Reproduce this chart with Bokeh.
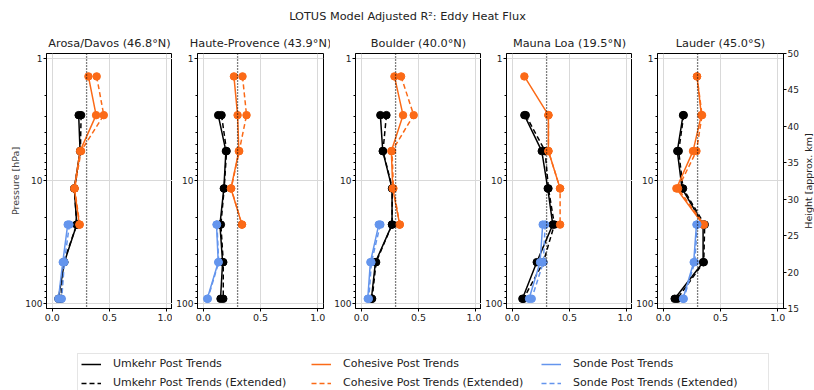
import math
from bokeh.plotting import figure
from bokeh.models import (Range1d, FixedTicker, LinearAxis, Span, Legend, LegendItem,
                          NumeralTickFormatter, BasicTickFormatter, LinearScale)
from bokeh.layouts import column, row
from bokeh.embed import file_html
from bokeh.resources import INLINE

NaN = float("nan")

suptitle = "LOTUS Model Adjusted R²: Eddy Heat Flux"
stations = ["Arosa/Davos (46.8°N)", "Haute-Provence (43.9°N)", "Boulder (40.0°N)",
            "Mauna Loa (19.5°N)", "Lauder (45.0°S)"]
left_label = "Pressure [hPa]"
right_label = "Height [approx. km]"

# pressure levels [hPa]
pressure = [1.4, 2.9, 5.7, 11.5, 22.7, 46.0, 91.5]
umkehr_levels = pressure[1:7]
cohesive_levels = pressure[0:5]
sonde_levels = pressure[4:7]

umkehr = [
    [0.231, 0.243, 0.193, 0.214, 0.106, 0.054],
    [0.131, 0.198, 0.180, 0.146, 0.169, 0.151],
    [0.167, 0.188, 0.269, 0.269, 0.124, 0.089],
    [0.106, 0.258, 0.310, 0.354, 0.214, 0.089],
    [0.173, 0.123, 0.164, 0.348, 0.348, 0.100],
]
umkehr_ext = [
    [0.252, 0.246, 0.193, 0.214, 0.100, 0.077],
    [0.160, 0.204, 0.183, 0.154, 0.175, 0.175],
    [0.220, 0.190, 0.272, 0.269, 0.130, 0.095],
    [0.118, 0.287, 0.316, 0.368, 0.272, 0.098],
    [0.179, 0.135, 0.173, 0.362, 0.354, 0.123],
]
cohesive = [
    [0.316, 0.383, 0.243, 0.193, 0.237],
    [0.268, 0.300, 0.311, 0.242, 0.338],
    [0.290, 0.365, 0.263, 0.275, 0.336],
    [0.106, 0.316, 0.316, 0.418, NaN],
    [0.295, 0.333, 0.260, 0.115, 0.348],
]
cohesive_ext = [
    [0.388, 0.450, 0.252, 0.196, 0.240],
    [0.343, 0.378, 0.314, 0.244, 0.338],
    [0.348, 0.458, 0.269, 0.281, 0.336],
    [NaN, 0.316, 0.316, 0.418, 0.418],
    [0.295, 0.339, 0.290, 0.129, 0.356],
]
sonde = [
    [0.135, 0.092, 0.054],
    [0.116, 0.131, 0.035],
    [0.153, 0.080, 0.057],
    [0.266, 0.243, 0.147],
    [0.290, 0.266, 0.173],
]
sonde_ext = [
    [0.150, 0.106, 0.083],
    [0.120, 0.135, 0.040],
    [0.167, 0.089, 0.066],
    [0.287, 0.272, 0.170],
    [0.298, 0.275, 0.179],
]
threshold = 0.3
height_ticks = [15, 20, 25, 30, 35, 40, 45, 50]

BLACK = "#000000"
ORANGE = "#fb6a17"
BLUE = "#6495ed"
FONT = "DejaVu Sans"
DASH = "5 3"

series = [
    ("Umkehr Post Trends", umkehr, umkehr_levels, BLACK, "solid"),
    ("Umkehr Post Trends (Extended)", umkehr_ext, umkehr_levels, BLACK, DASH),
    ("Cohesive Post Trends", cohesive, cohesive_levels, ORANGE, "solid"),
    ("Cohesive Post Trends (Extended)", cohesive_ext, cohesive_levels, ORANGE, DASH),
    ("Sonde Post Trends", sonde, sonde_levels, BLUE, "solid"),
    ("Sonde Post Trends (Extended)", sonde_ext, sonde_levels, BLUE, DASH),
]

X_LO, X_HI = -0.05, 1.05
FRAME_W, FRAME_H = 126, 255
TOP, BOTTOM = 23, 22

# title figure
tfig = figure(width=814, height=30, toolbar_location=None, output_backend="svg",
              x_axis_location=None, y_axis_location=None, min_border=0,
              min_border_top=24, outline_line_color=None)
tfig.title.text = suptitle
tfig.title.align = "center"
tfig.title.text_font = FONT
tfig.title.text_font_size = "11.3px"
tfig.title.text_font_style = "normal"
tfig.title.text_color = "#222222"
tfig.title.standoff = 4
tfig.grid.visible = False

# left/right borders per panel (frame width 126 each)
borders_left = [46, 25, 25, 25, 25]
borders_right = [0, 7, 0, 0, 0]

figs = []
for i, name in enumerate(stations):
    p = figure(frame_width=FRAME_W, frame_height=FRAME_H, y_axis_type="log",
               x_range=Range1d(X_LO, X_HI), y_range=Range1d(109.9, 0.91),
               toolbar_location=None, output_backend="svg",
               min_border_left=borders_left[i], min_border_right=borders_right[i],
               min_border_top=TOP, min_border_bottom=BOTTOM)
    p.title.text = name
    p.title.align = "center"
    p.title.text_font = FONT
    p.title.text_font_size = "11.3px"
    p.title.text_font_style = "normal"
    p.title.text_color = "#222222"
    p.title.standoff = 8
    p.outline_line_color = "black"
    p.outline_line_width = 1

    p.xaxis.ticker = FixedTicker(ticks=[0, 0.5, 1.0])
    p.xaxis.formatter = NumeralTickFormatter(format="0.0")
    p.yaxis.ticker = FixedTicker(ticks=[1, 10, 100],
                                 minor_ticks=[2, 3, 4, 5, 6, 7, 8, 9,
                                              20, 30, 40, 50, 60, 70, 80, 90])
    p.yaxis.formatter = BasicTickFormatter()
    for ax in (p.xaxis, p.yaxis):
        ax.major_label_text_font = FONT
        ax.major_label_text_color = "#222222"
        ax.major_tick_in = 0
        ax.major_tick_out = 3
        ax.minor_tick_in = 0
        ax.minor_tick_out = 2
        ax.axis_line_color = "black"
    p.xaxis.major_label_text_font_size = "9.5px"
    p.xaxis.major_label_standoff = 2
    p.yaxis.major_label_text_font_size = "9px"
    p.yaxis.major_label_standoff = 1
    p.xaxis.minor_tick_line_color = None
    p.grid.grid_line_color = "#d9d9d9"
    p.grid.grid_line_width = 1
    if i == 0:
        p.yaxis.axis_label = left_label
        p.yaxis.axis_label_text_font = FONT
        p.yaxis.axis_label_text_font_size = "9.5px"
        p.yaxis.axis_label_text_font_style = "normal"
        p.yaxis.axis_label_standoff = 1
    if i == 4:
        p.extra_y_ranges = {"h": Range1d(height_ticks[0], height_ticks[-1])}
        p.extra_y_scales = {"h": LinearScale()}
        rax = LinearAxis(y_range_name="h", ticker=FixedTicker(ticks=height_ticks))
        rax.major_label_text_font = FONT
        rax.major_label_text_font_size = "9px"
        rax.major_label_text_color = "#222222"
        rax.major_tick_in = 0
        rax.major_tick_out = 3
        rax.minor_tick_line_color = None
        rax.major_label_standoff = 1
        rax.axis_line_color = "black"
        p.add_layout(rax, "right")

    for label, data, levels, color, dash in series:
        xs = data[i]
        p.line(xs, levels, line_color=color, line_width=1.5, line_dash=dash)
        p.scatter(xs, levels, size=7.5, fill_color=color, line_color=color)

    p.add_layout(Span(location=threshold, dimension="height", line_color="black",
                      line_width=1.3, line_dash="1 2"))
    figs.append(p)

# narrow strip carrying the right-hand axis title (reads bottom-to-top)
hfig = figure(width=12, height=TOP + FRAME_H + BOTTOM, toolbar_location=None,
              output_backend="svg", x_axis_location=None, y_axis_location=None,
              min_border=0, min_border_top=TOP, min_border_bottom=BOTTOM,
              outline_line_color=None, title_location="left")
hfig.title.text = right_label
hfig.title.align = "center"
hfig.title.text_font = FONT
hfig.title.text_font_size = "9.5px"
hfig.title.text_font_style = "normal"
hfig.title.text_color = "#222222"
hfig.title.standoff = 0
hfig.grid.visible = False

# legend figure
lfig = figure(width=814, height=60, toolbar_location=None, output_backend="svg",
              x_axis_location=None, y_axis_location=None, min_border=0,
              outline_line_color=None)
lfig.grid.visible = False
items = []
for label, data, levels, color, dash in series:
    r = lfig.line([0], [0], line_color=color, line_width=1.5, line_dash=dash)
    items.append(LegendItem(label=label, renderers=[r]))
leg = Legend(items=items, location=(77, -3), ncols=3,
             label_text_font=FONT, label_text_font_size="11px",
             label_text_color="#222222",
             glyph_width=20, glyph_height=12, label_height=12, label_width=192,
             label_standoff=12, spacing=6, padding=3, margin=0,
             border_line_color="#cccccc", border_line_width=1,
             background_fill_color="white", background_fill_alpha=1)
lfig.add_layout(leg)

layout = column(tfig, row(*figs, hfig), lfig)
open("out.html", "w").write(file_html(layout, INLINE))
